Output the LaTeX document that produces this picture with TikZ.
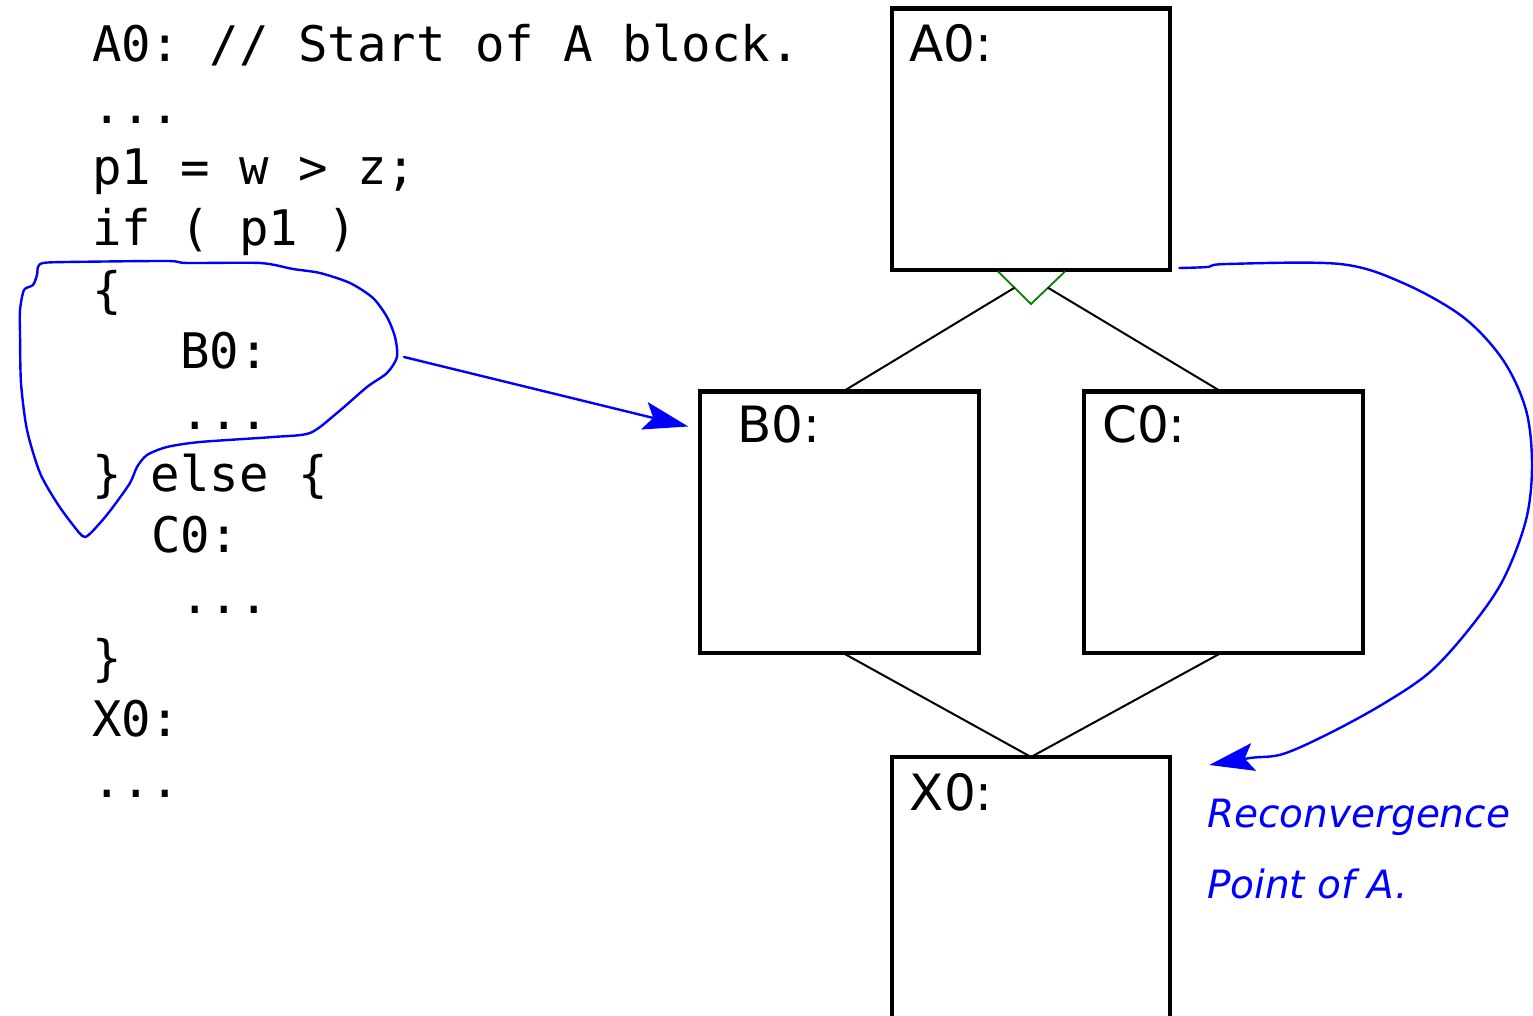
\documentclass[tikz,border=0pt]{standalone}
\usepackage{fontspec}
\setmainfont{DejaVu Sans}
\newfontfamily\codefont{DejaVu Sans Mono}
\usetikzlibrary{arrows.meta,calc}

\tikzset{
  codeline/.style={anchor=base west, inner sep=0pt, outer sep=0pt,
    font=\codefont\frenchspacing\fontsize{24.5}{30}\selectfont},
  blockbox/.style={draw=black, line width=2.2pt, minimum width=139.25pt,
    minimum height=130.75pt, inner sep=0pt, outer sep=0pt, fill=white},
  blocklabel/.style={anchor=base west, inner sep=0pt, outer sep=0pt,
    font=\fontsize{25}{30}\selectfont},
  edge/.style={draw=black, line width=1pt},
  splitmark/.style={draw=green!50!black, line width=0.9pt},
  pen/.style={draw=blue, line width=1.2pt, line join=round, line cap=round},
  penarrow/.style={pen, -{Stealth[length=22.5pt, width=14pt, inset=4.5pt]}},
  note/.style={anchor=base west, inner sep=0pt, outer sep=0pt, text=blue,
    font=\fontsize{19.5}{24}\selectfont\itshape},
}

\begin{document}
\begin{tikzpicture}[x=0.5pt, y=-0.5pt]
\useasboundingbox (0,0) rectangle (1533,1016);
\clip (0,0) rectangle (1533,1016);

% source listing
\node[codeline] (c0)  at (92,62)     {A0: // Start of A block.};
\node[codeline] (c1)  at (92,123.3)  {...};
\node[codeline] (c2)  at (92,184.6)  {p1 = w > z;};
\node[codeline] (c3)  at (92,245.9)  {if ( p1 )};
\node[codeline] (c4)  at (92,307.2)  {\{};
\node[codeline] (c5)  at (92,368.5)  {\phantom{xxx}B0:};
\node[codeline] (c6)  at (92,429.8)  {\phantom{xxx}...};
\node[codeline] (c7)  at (92,491.1)  {\} else \{};
\node[codeline] (c8)  at (92,552.4)  {\phantom{xx}C0:};
\node[codeline] (c9)  at (92,613.7)  {\phantom{xxx}...};
\node[codeline] (c10) at (92,675)    {\}};
\node[codeline] (c11) at (92,736.3)  {X0:};
\node[codeline] (c12) at (92,797.6)  {...};

% basic blocks
\node[blockbox] (A0) at (1031,139.25)  {};
\node[blockbox] (B0) at (839.5,522.25) {};
\node[blockbox] (C0) at (1223.5,522.25) {};
\node[blockbox] (X0) at (1031,887.75)  {};

\node[blocklabel] (A0l) at ($(A0.north west)+(18,53.5)$) {A0:};
\node[blocklabel] (B0l) at ($(B0.north west)+(37,51.5)$) {B0:};
\node[blocklabel] (C0l) at ($(C0.north west)+(18,51)$)   {C0:};
\node[blocklabel] (X0l) at ($(X0.north west)+(18,53)$)   {X0:};

% branch marker under A0 and the control-flow edges
\draw[splitmark] ($(A0.south)+(-33,1.5)$) -- coordinate[pos=0.5] (vl)
  ($(A0.south)+(0,34)$) -- coordinate[pos=0.5] (vr) ($(A0.south)+(34,1.5)$);
\draw[edge] (vl) -- ($(B0.north)+(3.5,0)$);
\draw[edge] (vr) -- ($(C0.north)+(-2.5,0)$);
\draw[edge] ($(B0.south)+(3.5,0)$) -- (X0.north);
\draw[edge] ($(C0.south)+(-2.5,0)$) -- (X0.north);

% hand-drawn loop around the then-branch
\coordinate (loopE) at (397,357);
\draw[pen] plot[smooth cycle, tension=0.45] coordinates {
  (43,263) (67,262) (167,261) (187,263) (260,263) (293,269) (320,273)
  (350,283) (373,298) (387,317) (395,337) (loopE) (387,373) (367,387)
  (337,413) (310,433) (273,437) (200,442) (167,447) (147,455) (137,467)
  (130,483) (113,507) (100,523) (85,537) (73,525) (57,503) (40,473)
  (27,430) (21,383) (20,333) (20,310) (24,290) (33,285) (37,275) (38,267)};
\coordinate (bTip) at ($(B0.north west)+(-12,35)$);
\draw[penarrow] ($(loopE)+(7,0)$) -- (bTip);

% reconvergence arrow from A0 to X0
\coordinate (rcStart) at ($(A0.south east)+(9,-2)$);
\coordinate (rcEnd) at ($(X0.north east)+(39,8)$);
\draw[penarrow] plot[smooth, tension=0.55] coordinates {
  (rcStart) (1207,267) (1227,264) (1340,264) (1403,283) (1463,317)
  (1503,360) (1526,410) (1532,465) (1526,520) (1503,580) (1470,628)
  (1430,672) (1383,704) (1330,733) (1283,754) (1250,758) (rcEnd)};

\node[note] (rp1) at (1207,827) {Reconvergence};
\node[note] (rp2) at (1207,898) {Point of A.};
\end{tikzpicture}
\end{document}
